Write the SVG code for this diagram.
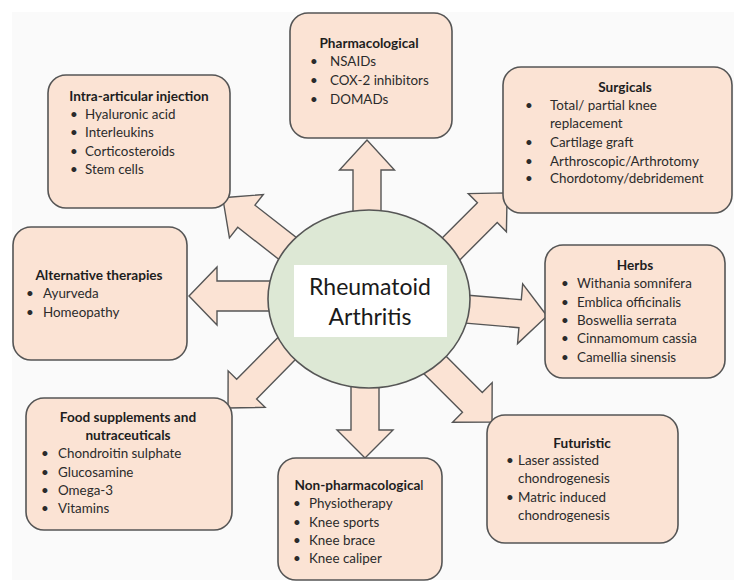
<svg xmlns="http://www.w3.org/2000/svg" width="734" height="582" viewBox="0 0 734 582">
<style>
.box{fill:#fbe3d4;stroke:#555555;stroke-width:1.6}
.arr{fill:#fbe3d4;stroke:#555555;stroke-width:1.4;stroke-linejoin:miter}
.t{font-family:Lato,"Liberation Sans",sans-serif;font-size:13.4px;fill:#2b2b2b}
.h{font-weight:bold;text-anchor:middle;fill:#1e1e1e;font-size:13.6px}
.c{font-family:Lato,"Liberation Sans",sans-serif;font-size:23px;fill:#1a1a1a;text-anchor:middle}
</style>
<rect x="0" y="0" width="734" height="582" fill="#ffffff"/>
<rect x="12" y="12" width="722" height="568" fill="#fafafa"/>

<g id="connectors">
  <polygon class="arr" transform="translate(367,237) rotate(-90)" points="0,-14 67,-14 67,-27.5 97,0 67,27.5 67,14 0,14"/>
  <polygon class="arr" transform="translate(365,361) rotate(90)" points="0,-14 69,-14 69,-28 97,0 69,28 69,14 0,14"/>
  <polygon class="arr" transform="translate(299,296) rotate(180)" points="0,-15 82,-15 82,-29 110,0 82,29 82,15 0,15"/>
  <polygon class="arr" transform="translate(440.4,306.9) rotate(4.9)" points="0,-14 80,-14 80,-30 107,0 80,30 80,14 0,14"/>
  <polygon class="arr" transform="translate(296,255) rotate(218)" points="0,-14 63,-14 63,-27.5 93,0 63,27.5 63,14 0,14"/>
  <polygon class="arr" transform="translate(435,265) rotate(-45)" points="0,-14 74,-14 74,-27 102,0 74,27 74,14 0,14"/>
  <polygon class="arr" transform="translate(300,335) rotate(134.6)" points="0,-14 76,-14 76,-26 102.5,0 76,26 76,14 0,14"/>
  <polygon class="arr" transform="translate(425,355) rotate(45)" points="0,-14 67,-14 67,-28 94.8,0 67,28 67,14 0,14"/>
</g>

<g id="center">
  <ellipse cx="369" cy="299" rx="101" ry="89" fill="#dde8d5" stroke="#555555" stroke-width="1.6"/>
  <rect x="294" y="265" width="153" height="72" fill="#ffffff"/>
  <text class="c" x="370" y="295">Rheumatoid</text>
  <text class="c" x="370" y="325">Arthritis</text>
</g>

<g id="pharmacological">
  <rect class="box" x="290" y="13" width="162" height="125" rx="18"/>
  <text class="t h" x="369" y="48">Pharmacological</text>
  <text class="t" x="310" y="66">•</text><text class="t" x="330" y="66">NSAIDs</text>
  <text class="t" x="310" y="85">•</text><text class="t" x="330" y="85">COX-2 inhibitors</text>
  <text class="t" x="310" y="104">•</text><text class="t" x="330" y="104">DOMADs</text>
</g>

<g id="intra-articular">
  <rect class="box" x="48" y="75" width="182" height="133" rx="18"/>
  <text class="t h" x="139" y="101">Intra-articular injection</text>
  <text class="t" x="70" y="119">•</text><text class="t" x="85" y="119">Hyaluronic acid</text>
  <text class="t" x="70" y="137">•</text><text class="t" x="85" y="137">Interleukins</text>
  <text class="t" x="70" y="156">•</text><text class="t" x="85" y="156">Corticosteroids</text>
  <text class="t" x="70" y="174">•</text><text class="t" x="85" y="174">Stem cells</text>
</g>

<g id="surgicals">
  <rect class="box" x="503" y="67" width="229" height="146" rx="18"/>
  <text class="t h" x="625" y="92">Surgicals</text>
  <text class="t" x="525" y="110">•</text><text class="t" x="550" y="110">Total/ partial knee</text>
  <text class="t" x="550" y="128">replacement</text>
  <text class="t" x="525" y="147">•</text><text class="t" x="550" y="147">Cartilage graft</text>
  <text class="t" x="525" y="166">•</text><text class="t" x="550" y="166">Arthroscopic/Arthrotomy</text>
  <text class="t" x="525" y="183">•</text><text class="t" x="550" y="183">Chordotomy/debridement</text>
</g>

<g id="alternative">
  <rect class="box" x="13" y="227" width="174" height="133" rx="18"/>
  <text class="t h" x="99" y="280">Alternative therapies</text>
  <text class="t" x="26" y="298">•</text><text class="t" x="43" y="298">Ayurveda</text>
  <text class="t" x="26" y="317">•</text><text class="t" x="43" y="317">Homeopathy</text>
</g>

<g id="herbs">
  <rect class="box" x="545" y="245" width="180" height="133" rx="18"/>
  <text class="t h" x="635" y="270">Herbs</text>
  <text class="t" x="561" y="288">•</text><text class="t" x="577" y="288">Withania somnifera</text>
  <text class="t" x="561" y="307">•</text><text class="t" x="577" y="307">Emblica officinalis</text>
  <text class="t" x="561" y="325">•</text><text class="t" x="577" y="325">Boswellia serrata</text>
  <text class="t" x="561" y="343">•</text><text class="t" x="577" y="343">Cinnamomum cassia</text>
  <text class="t" x="561" y="362">•</text><text class="t" x="577" y="362">Camellia sinensis</text>
</g>

<g id="food-supplements">
  <rect class="box" x="26" y="398" width="206" height="132" rx="18"/>
  <text class="t h" x="128" y="422">Food supplements and</text>
  <text class="t h" x="128" y="440">nutraceuticals</text>
  <text class="t" x="41" y="458">•</text><text class="t" x="58" y="458">Chondroitin sulphate</text>
  <text class="t" x="41" y="477">•</text><text class="t" x="58" y="477">Glucosamine</text>
  <text class="t" x="41" y="495">•</text><text class="t" x="58" y="495">Omega-3</text>
  <text class="t" x="41" y="513">•</text><text class="t" x="58" y="513">Vitamins</text>
</g>

<g id="non-pharmacological">
  <rect class="box" x="278" y="458" width="164" height="122" rx="18"/>
  <text class="t h" x="359" y="490">Non-pharmacologica<tspan font-weight="normal">l</tspan></text>
  <text class="t" x="293" y="508">•</text><text class="t" x="309" y="508">Physiotherapy</text>
  <text class="t" x="293" y="527">•</text><text class="t" x="309" y="527">Knee sports</text>
  <text class="t" x="293" y="545">•</text><text class="t" x="309" y="545">Knee brace</text>
  <text class="t" x="293" y="563">•</text><text class="t" x="309" y="563">Knee caliper</text>
</g>

<g id="futuristic">
  <rect class="box" x="487" y="415" width="191" height="128" rx="18"/>
  <text class="t h" x="582" y="448">Futuristic</text>
  <text class="t" x="506" y="465">•</text><text class="t" x="518" y="465">Laser assisted</text>
  <text class="t" x="518" y="483">chondrogenesis</text>
  <text class="t" x="506" y="502">•</text><text class="t" x="518" y="502">Matric induced</text>
  <text class="t" x="518" y="520">chondrogenesis</text>
</g>
</svg>
